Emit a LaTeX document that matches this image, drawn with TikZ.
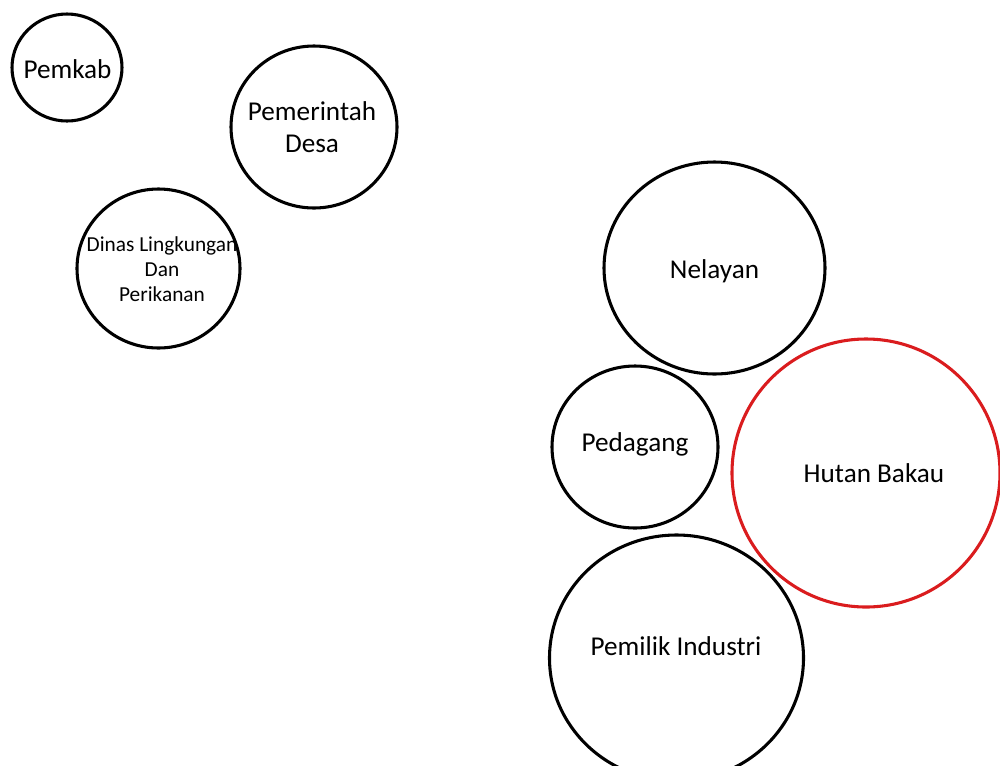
\documentclass[tikz,border=0pt]{standalone}
\usepackage{fontspec}
\setmainfont{Carlito}
\usetikzlibrary{shapes.geometric}
\definecolor{bakaured}{RGB}{218,28,30}
\tikzset{
  bubble/.style={draw=black, line width=2.3pt, ellipse, inner sep=0pt, fill=none},
  txt/.style={anchor=base, inner sep=0pt, align=center, font=\fontsize{20.4pt}{24pt}\selectfont},
  smalltxt/.style={anchor=base, inner sep=0pt, align=center, font=\fontsize{16pt}{18.4pt}\selectfont},
}
\begin{document}
\begin{tikzpicture}[x=0.75pt, y=-0.75pt]
\useasboundingbox (0,0) rectangle (1000,765);
% circles
\node[bubble, minimum width=82.5pt, minimum height=80.25pt] (pemkab) at (67,67.5) {};
\node[bubble, minimum width=124.5pt, minimum height=121.5pt] (desa) at (314,127) {};
\node[bubble, minimum width=122.25pt, minimum height=119.25pt] (dinas) at (158.5,268.5) {};
\node[bubble, minimum width=165.75pt, minimum height=159pt] (nelayan) at (714.5,268) {};
\node[bubble, minimum width=124.5pt, minimum height=121.5pt] (pedagang) at (635,447) {};
\node[bubble, draw=bakaured, minimum width=201pt, minimum height=201pt] (hutan) at (866,473) {};
\node[bubble, minimum width=190.5pt, minimum height=184.5pt] (pemilik) at (676.5,658) {};
% labels (base anchor = baseline of last line)
\node[txt] (pemkab-t) at (67.5,78) {Pemkab};
\node[txt] (desa-t) at (312,152) {Pemerintah\\Desa};
\node[smalltxt] (dinas-t) at (162,301) {Dinas Lingkungan\\Dan\\Perikanan};
\node[txt] (nelayan-t) at (714.5,278) {Nelayan};
\node[txt] (pedagang-t) at (635,451) {Pedagang};
\node[txt] (hutan-t) at (874,482) {Hutan Bakau};
\node[txt] (pemilik-t) at (676,655) {Pemilik Industri};
\end{tikzpicture}
\end{document}
